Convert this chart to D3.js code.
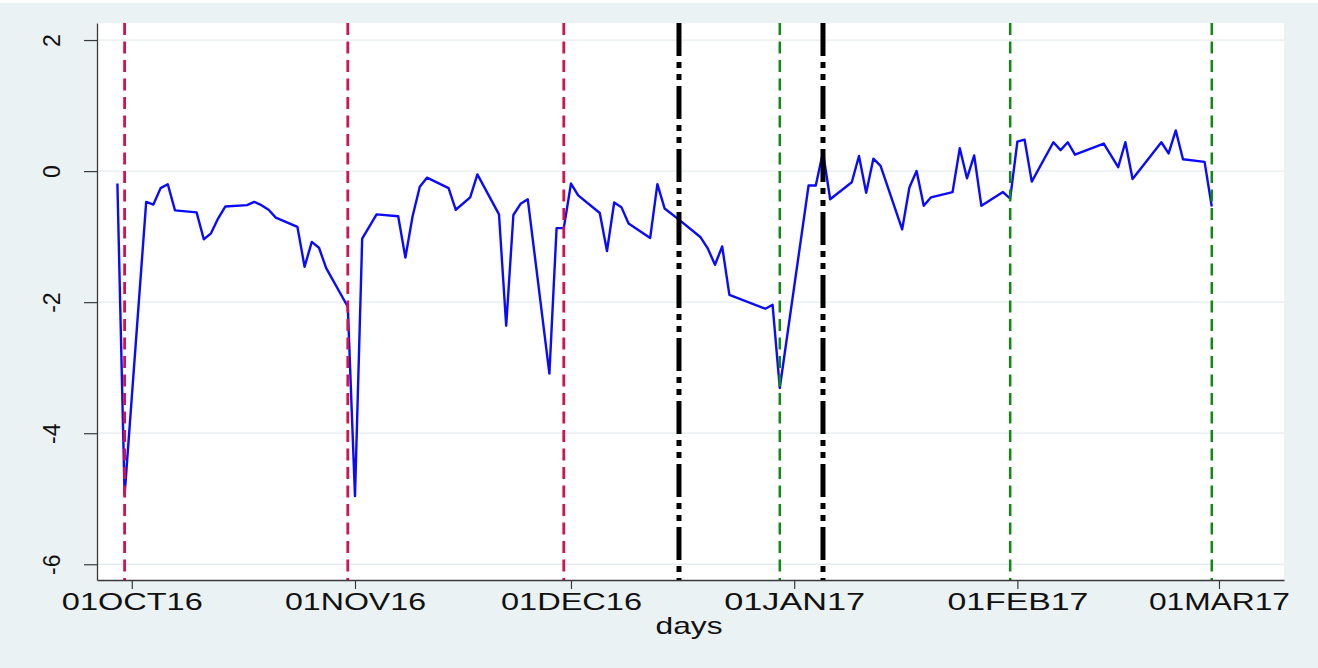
<!DOCTYPE html>
<html>
<head>
<meta charset="utf-8">
<script src="https://cdn.jsdelivr.net/npm/d3@7/dist/d3.min.js"></script>
<style>
  html, body { margin: 0; padding: 0; background: #eaf2f3; }
  svg { display: block; }
  text { font-family: "Liberation Sans", Arial, Helvetica, sans-serif; fill: #111; }
</style>
</head>
<body>
<svg id="chart" width="1318" height="668"></svg>
<script>
// ---------------- data ----------------
const dates = [
  "2016-09-29","2016-09-30","2016-10-03","2016-10-04","2016-10-05","2016-10-06","2016-10-07",
  "2016-10-10","2016-10-11","2016-10-12","2016-10-13","2016-10-14","2016-10-17","2016-10-18",
  "2016-10-19","2016-10-20","2016-10-21","2016-10-24","2016-10-25","2016-10-26","2016-10-27",
  "2016-10-28","2016-10-31","2016-11-01","2016-11-02","2016-11-04","2016-11-07","2016-11-08",
  "2016-11-09","2016-11-10","2016-11-11","2016-11-14","2016-11-15","2016-11-17","2016-11-18",
  "2016-11-21","2016-11-22","2016-11-23","2016-11-24","2016-11-25","2016-11-28","2016-11-29",
  "2016-11-30","2016-12-01","2016-12-02","2016-12-05","2016-12-06","2016-12-07","2016-12-08",
  "2016-12-09","2016-12-12","2016-12-13","2016-12-14","2016-12-16","2016-12-19","2016-12-20",
  "2016-12-21","2016-12-22","2016-12-23","2016-12-28","2016-12-29","2016-12-30","2017-01-03",
  "2017-01-04","2017-01-05","2017-01-06","2017-01-09","2017-01-10","2017-01-11","2017-01-12",
  "2017-01-13","2017-01-16","2017-01-17","2017-01-18","2017-01-19","2017-01-20","2017-01-23",
  "2017-01-24","2017-01-25","2017-01-26","2017-01-27","2017-01-30","2017-01-31","2017-02-01",
  "2017-02-02","2017-02-03","2017-02-06","2017-02-07","2017-02-08","2017-02-09","2017-02-13",
  "2017-02-15","2017-02-16","2017-02-17","2017-02-21","2017-02-22","2017-02-23","2017-02-24",
  "2017-02-27","2017-02-28"
];
const values = [
  -0.19,-4.94,-0.47,-0.51,-0.26,-0.20,-0.60,
  -0.63,-1.04,-0.95,-0.72,-0.54,-0.52,-0.47,
  -0.52,-0.59,-0.71,-0.85,-1.46,-1.08,-1.17,
  -1.48,-2.07,-4.96,-1.03,-0.66,-0.69,-1.32,
  -0.69,-0.24,-0.10,-0.26,-0.59,-0.40,-0.05,
  -0.66,-2.36,-0.67,-0.50,-0.43,-3.09,-0.87,
  -0.87,-0.19,-0.37,-0.64,-1.22,-0.48,-0.55,
  -0.80,-1.02,-0.20,-0.57,-0.74,-1.01,-1.18,
  -1.43,-1.15,-1.89,-2.10,-2.04,-3.31,-0.22,
  -0.22,0.29,-0.43,-0.17,0.23,-0.33,0.19,
  0.08,-0.89,-0.25,0.00,-0.53,-0.40,-0.32,
  0.35,-0.11,0.24,-0.53,-0.32,-0.42,0.45,
  0.48,-0.16,0.44,0.32,0.44,0.25,0.42,
  0.06,0.44,-0.12,0.44,0.27,0.62,0.18,
  0.14,-0.54
];
const xTickDates = ["2016-10-01","2016-11-01","2016-12-01","2017-01-01","2017-02-01","2017-03-01"];
const yTicks = [-6, -4, -2, 0, 2];
const redLines = ["2016-09-30","2016-10-31","2016-11-30"];
const blackLines = ["2016-12-16","2017-01-05"];
const greenLines = ["2016-12-30","2017-01-31","2017-02-28"];
const xDomain = ["2016-09-26T04:00:00Z","2017-03-10T00:45:00Z"];
const yDomain = [-6.24, 2.26];
const xTitle = "days";

// ---------------- layout ----------------
const W = 1318, H = 668;
const plot = { left: 97, right: 1284, top: 23, bottom: 580 };
const parse = s => new Date(s.length > 10 ? s : s + "T00:00:00Z");

const svg = d3.select("#chart");

svg.append("rect").attr("x", 0).attr("y", 0).attr("width", W).attr("height", H).attr("fill", "#eaf2f3");
svg.append("rect").attr("x", 0).attr("y", 0).attr("width", W).attr("height", 3).attr("fill", "#ffffff");
svg.append("rect")
  .attr("x", plot.left).attr("y", plot.top)
  .attr("width", plot.right - plot.left).attr("height", plot.bottom - plot.top)
  .attr("fill", "#ffffff");

const x = d3.scaleUtc().domain(xDomain.map(parse)).range([plot.left, plot.right]);
const y = d3.scaleLinear().domain(yDomain).range([plot.bottom, plot.top]);

// gridlines
svg.append("g").selectAll("line").data(yTicks).join("line")
  .attr("x1", plot.left).attr("x2", plot.right)
  .attr("y1", d => y(d)).attr("y2", d => y(d))
  .attr("stroke", "#e4ecef").attr("stroke-width", 1.3);

// data line
const series = dates.map((d, i) => ({ date: parse(d), value: values[i] }));
svg.append("path").datum(series)
  .attr("fill", "none").attr("stroke", "#0a0aff").attr("stroke-width", 2.4)
  .attr("stroke-linejoin", "round")
  .attr("d", d3.line().x(d => x(d.date)).y(d => y(d.value)));

// vertical reference lines
function vlines(list, color, width, dash) {
  svg.append("g").selectAll("line").data(list.map(parse)).join("line")
    .attr("x1", d => x(d)).attr("x2", d => x(d))
    .attr("y1", plot.top).attr("y2", plot.bottom)
    .attr("stroke", color).attr("stroke-width", width)
    .attr("stroke-dasharray", dash);
}
vlines(redLines, "#d3144a", 2.8, "12,6.5");
vlines(greenLines, "#108a10", 2.5, "12,6.5");
vlines(blackLines, "#000000", 5, "33,6,6,6,6,6");

// axes
const xAxis = d3.axisBottom(x)
  .tickValues(xTickDates.map(parse))
  .tickSize(9).tickSizeOuter(0)
  .tickFormat(d => d3.utcFormat("%d%b%y")(d).toUpperCase());
const gx = svg.append("g").attr("transform", `translate(0,${plot.bottom})`).call(xAxis);
gx.select(".domain").attr("stroke", "#3a3a3a").attr("stroke-width", 1.3);
gx.selectAll(".tick line").attr("stroke", "#3a3a3a").attr("stroke-width", 1.2);
gx.selectAll(".tick text")
  .attr("y", 29.5).attr("dy", 0)
  .attr("font-size", 23)
  .attr("fill", "#111")
  .attr("textLength", 141).attr("lengthAdjust", "spacingAndGlyphs");

const yAxis = d3.axisLeft(y).tickValues(yTicks).tickSize(13).tickSizeOuter(0).tickFormat(d3.format("d"));
const gy = svg.append("g").attr("transform", `translate(${plot.left},0)`).call(yAxis);
gy.select(".domain").attr("stroke", "#3a3a3a").attr("stroke-width", 1.3);
gy.selectAll(".tick line").attr("stroke", "#3a3a3a").attr("stroke-width", 1.2);
gy.selectAll(".tick text")
  .attr("x", null).attr("dy", null)
  .attr("transform", "translate(-37,0) rotate(-90)")
  .attr("text-anchor", "middle")
  .attr("font-size", 23)
  .attr("fill", "#111")
  .text(d => d3.format("d")(d).replace("−", "-"));

// axis title
svg.append("text")
  .attr("x", 689).attr("y", 634)
  .attr("text-anchor", "middle")
  .attr("font-size", 24)
  .attr("textLength", 67).attr("lengthAdjust", "spacingAndGlyphs")
  .text(xTitle);
</script>
</body>
</html>
